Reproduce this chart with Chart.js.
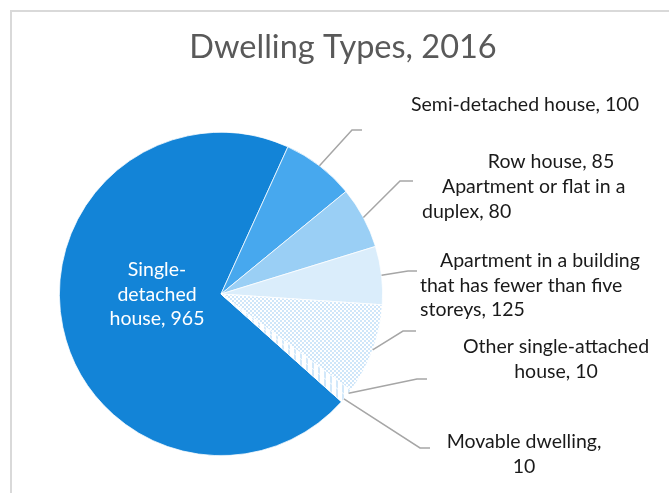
<!DOCTYPE html>
<html>
<head>
<meta charset="utf-8">
<script src="https://cdn.jsdelivr.net/npm/chart.js@4.4.1/dist/chart.umd.min.js"></script>
<style>
  html, body { margin: 0; padding: 0; background: #fff; }
  canvas { display: block; }
</style>
</head>
<body>
<canvas id="dwellingChart" width="669" height="493"></canvas>
<script>
// chart data
const categories = [
  'Single-detached house',
  'Semi-detached house',
  'Row house',
  'Apartment or flat in a duplex',
  'Apartment in a building that has fewer than five storeys',
  'Other single-attached house',
  'Movable dwelling'
];
const dwellingCounts = [965, 100, 85, 80, 125, 10, 10];
const chartTitle = 'Dwelling Types, 2016';

// label placement (x, first line y, wrap width, leader elbow)
// left-aligned labels use x as left edge and indent the first line
const labelLayout = [
  { x: 157, y: 270, wrap: 104, color: '#ffffff' },
  { x: 525, y: 105, wrap: 250, elbow: [352, 130], end: 362 },
  { x: 551, y: 162, wrap: 250, elbow: [400, 181], end: 413 },
  { x: 422, y: 187, wrap: 212, elbow: [408, 271], end: 417, left: true, indent: 20 },
  { x: 420, y: 261, wrap: 220, elbow: [403, 331], end: 416, left: true, indent: 20 },
  { x: 556, y: 347, wrap: 200, elbow: [417, 379], end: 427 },
  { x: 524, y: 442, wrap: 172, elbow: [420, 448], end: 430 }
];

const FONT = '"Lato", "Open Sans", sans-serif';

// fill patterns for the small slices
const makeDots = () => {
  const c = document.createElement('canvas');
  c.width = 4; c.height = 4;
  const g = c.getContext('2d');
  g.fillStyle = '#ffffff';
  g.fillRect(0, 0, 4, 4);
  g.fillStyle = '#cfe6f9';
  g.fillRect(0, 0, 2, 2);
  g.fillRect(2, 2, 2, 2);
  return g.createPattern(c, 'repeat');
};
const makeStripes = () => {
  const c = document.createElement('canvas');
  c.width = 6; c.height = 6;
  const g = c.getContext('2d');
  g.fillStyle = '#ffffff';
  g.fillRect(0, 0, 6, 6);
  g.fillStyle = '#d2e8fa';
  g.fillRect(0, 0, 2, 6);
  return g.createPattern(c, 'repeat');
};

const sliceColors = ['#1384d7', '#47a8ee', '#9acff5', '#daedfb', makeDots(), makeStripes(), makeStripes()];

// wrap a label like Excel does (spaces and hyphens are break points)
const wrapText = (ctx, text, width) => {
  const tokens = text.match(/[^\s-]+-?\s?|\s/g) || [text];
  const lines = [];
  let cur = '';
  tokens.forEach(tok => {
    const trial = cur + tok;
    if (cur && ctx.measureText(trial.trim()).width > width) {
      lines.push(cur.trim());
      cur = tok;
    } else {
      cur = trial;
    }
  });
  if (cur.trim()) lines.push(cur.trim());
  return lines;
};

const frameAndLabels = {
  id: 'frameAndLabels',
  beforeDraw(chart) {
    const ctx = chart.ctx;
    ctx.save();
    ctx.strokeStyle = '#d9d9d9';
    ctx.lineWidth = 2;
    ctx.beginPath();
    ctx.moveTo(11, chart.height);
    ctx.lineTo(11, 11);
    ctx.lineTo(chart.width, 11);
    ctx.stroke();

    ctx.fillStyle = '#595959';
    ctx.font = '32.5px ' + FONT;
    ctx.textAlign = 'center';
    ctx.textBaseline = 'middle';
    ctx.fillText(chartTitle, 343, 48);
    ctx.restore();
  },
  afterDatasetsDraw(chart) {
    const ctx = chart.ctx;
    const arcs = chart.getDatasetMeta(0).data;
    ctx.save();
    ctx.font = '19.5px ' + FONT;
    ctx.textBaseline = 'middle';
    arcs.forEach((arc, i) => {
      const lay = labelLayout[i];
      if (lay.elbow) {
        const mid = (arc.startAngle + arc.endAngle) / 2;
        const sx = arc.x + Math.cos(mid) * arc.outerRadius;
        const sy = arc.y + Math.sin(mid) * arc.outerRadius;
        ctx.strokeStyle = '#a6a6a6';
        ctx.lineWidth = 1.5;
        ctx.beginPath();
        ctx.moveTo(sx, sy);
        ctx.lineTo(lay.elbow[0], lay.elbow[1]);
        ctx.lineTo(lay.end, lay.elbow[1]);
        ctx.stroke();
      }
      const text = categories[i] + ', ' + dwellingCounts[i];
      const lines = wrapText(ctx, text, lay.wrap);
      ctx.fillStyle = lay.color || '#1a1a1a';
      ctx.textAlign = lay.left ? 'left' : 'center';
      lines.forEach((ln, k) => {
        const x = lay.left && k === 0 ? lay.x + lay.indent : lay.x;
        ctx.fillText(ln, x, lay.y + k * 24.5);
      });
    });
    ctx.restore();
  }
};

const ctx = document.getElementById('dwellingChart').getContext('2d');
new Chart(ctx, {
  type: 'pie',
  data: {
    labels: categories,
    datasets: [{
      data: dwellingCounts,
      backgroundColor: sliceColors,
      borderColor: '#ffffff',
      borderWidth: 0.75,
      hoverOffset: 0,
      offset: 0
    }]
  },
  options: {
    responsive: false,
    animation: false,
    devicePixelRatio: 1,
    rotation: 131.8,
    layout: {
      padding: { left: 59, top: 132, right: 286, bottom: 37 }
    },
    plugins: {
      legend: { display: false },
      title: { display: false },
      tooltip: { enabled: false }
    }
  },
  plugins: [frameAndLabels]
});
</script>
</body>
</html>
